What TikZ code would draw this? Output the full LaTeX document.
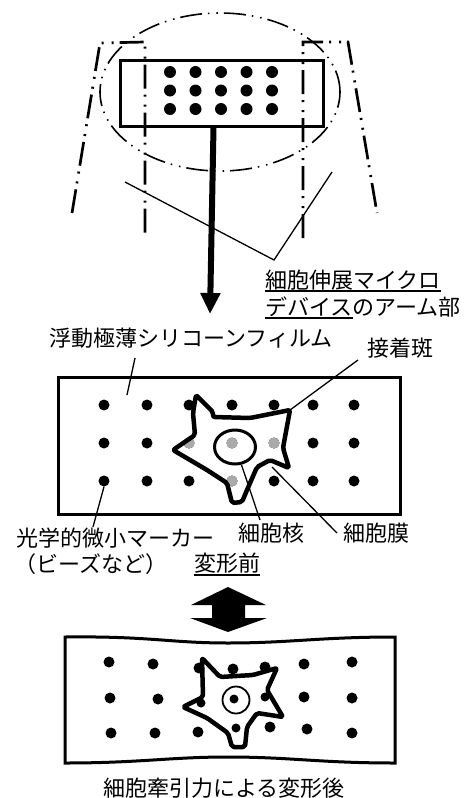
\documentclass[tikz,border=0pt]{standalone}
\usepackage{fontspec}
\setmainfont{Noto Sans CJK JP}
\usetikzlibrary{arrows.meta,shapes.geometric}
\definecolor{MarkGray}{RGB}{170,170,170}

\begin{document}
\begin{tikzpicture}[x=1pt,y=-1pt,
    lb/.style={inner sep=0pt,font=\fontsize{22}{26}\selectfont},
    ld/.style={line width=1.3pt},
    ul/.style={line width=2.2pt},
    dd/.style={line width=2.7pt,dash pattern=on 24pt off 6pt on 2pt off 8pt on 2pt off 6pt},
    mk/.style={circle,fill=black,inner sep=0pt,minimum size=11pt},
    gm/.style={mk,fill=MarkGray},
    cell/.style={line width=4.5pt,line join=round,rounded corners=2pt}]
  \useasboundingbox (0,0) rectangle (469,798);

  % micro device: arms, close-up ellipse, tip with markers
  \draw[dd] (72,213) -- (100,43) -- (145,42) -- (145,238);
  \draw[dd] (303,238) -- (303,42) -- (348,42) -- (377,213);
  \draw[dd,line width=1.6pt,dash pattern=on 22pt off 6pt on 1.5pt off 7pt on 1.5pt off 6pt]
    (220,92) ellipse [x radius=120pt,y radius=79pt];
  \node[draw,line width=3pt,minimum width=203pt,minimum height=66pt,inner sep=0pt] (dev) at (221.5,93) {};
  \foreach \i in {0,...,4}
    \foreach \j in {0,1,2}
      \node[mk,minimum size=12pt] at (170+25.5*\i,72+18.5*\j) {};
  \coordinate (tip) at (210,314);
  \draw[line width=6pt,-{Triangle[width=19pt,length=21pt]}] ([xshift=-8pt]dev.south) -- (tip);

  % arm label
  \coordinate (armL) at (125,182);
  \coordinate (armR) at (332,172);
  \coordinate (armV) at (274,260);
  \draw[ld] (armL) -- (armV) -- (armR);
  \node[lb,anchor=base west] (arm1) at (265,288) {細胞伸展マイクロ};
  \node[lb,anchor=base west] (arm2) at (265,315) {デバイス};
  \node[lb,anchor=base west] (arm3) at (arm2.base east) {のアーム部};
  \draw[ul] ([yshift=-3pt]arm1.base west) -- ([yshift=-3pt]arm1.base east);
  \draw[ul] ([yshift=-3pt]arm2.base west) -- ([yshift=-3pt]arm2.base east);

  % film before deformation
  \node[lb,anchor=base west] (film-lbl) at (49,346) {浮動極薄シリコーンフィルム};
  \node[lb,anchor=base west] (fa-lbl) at (367,356) {接着斑};
  \node[draw,line width=3pt,minimum width=342pt,minimum height=137pt,inner sep=0pt] (film) at (229,445.5) {};
  \foreach \x [count=\i] in {104,147,189,232,274,313,354}
    \foreach \y [count=\j] in {405,443,481}
      \node[mk] (m\i\j) at (\x,\y) {};
  \foreach \p in {32,42,52,43}
    \node[gm] at (m\p) {};
  \draw[cell] (196,395) -- (213,412) -- (213,417) -- (250,418) -- (290,410) -- (283,448)
    -- (289,468) -- (270,460) -- (257,467) -- (247,490) -- (242,502) -- (232,503)
    -- (227,483) -- (207,470) -- (190,460) -- (173,450) -- (195,435) -- (193,413) -- cycle;
  \node[draw,ellipse,line width=3pt,minimum width=41pt,minimum height=34pt,inner sep=0pt] (nuc) at (235,447) {};

  \node[lb,anchor=base west] (mk-lbl) at (16,546) {光学的微小マーカー};
  \node[lb,anchor=base west] (mk-lbl2) at (14,572) {（ビーズなど）};
  \node[lb,anchor=base west] (nuc-lbl) at (238,541) {細胞核};
  \node[lb,anchor=base west] (mem-lbl) at (343,541) {細胞膜};
  \node[lb,anchor=base west] (pre-lbl) at (194,571) {変形前};
  \draw[ul] ([yshift=-4pt]pre-lbl.base west) -- ([yshift=-4pt]pre-lbl.base east);

  % leader ends
  \coordinate (fl1) at (135,358);  \coordinate (fl2) at (127,395);
  \coordinate (fa1) at (358,360);  \coordinate (fa2) at (290,410);
  \coordinate (mk2) at (93,527);
  \coordinate (nu2) at (260,520);
  \coordinate (me1) at (272,467);  \coordinate (me2) at (337,533);
  \foreach \a/\b in {fl1/fl2,fa1/fa2,m13.south/mk2,nuc.-70/nu2,me1/me2}
    \draw[ld] (\a) -- (\b);

  % double arrow
  \fill (228,587) -- (266,605) -- (245,605) -- (245,618) -- (267,618) -- (228,632)
    -- (190,618) -- (212,618) -- (212,605) -- (191,605) -- cycle;

  % film after deformation
  \draw[line width=3pt] (65,637) .. controls (150,636) and (170,643) .. (228,643)
    .. controls (290,643) and (320,637) .. (395,637) -- (395,763)
    .. controls (320,763) and (290,757) .. (228,757)
    .. controls (170,757) and (140,763) .. (65,763) -- cycle;
  \foreach \x/\y in {109/662,153/664,199/668,233/669,265/667,304/664,352/662,
                     110/698,158/699,304/697,352/698,
                     111/733,155/733,198/732,270/727,307/729,352/733}
    \fill (\x,\y) circle (5.5pt);
  \foreach \x/\y in {201/703,234/699,265/697,236/728}
    \fill (\x,\y) circle (4.5pt);
  \draw[cell] (202,658) -- (220,677) -- (253,675) -- (277,668) -- (267,690) -- (283,717)
    -- (257,713) -- (247,727) -- (245,747) -- (232,747) -- (228,733) -- (207,718)
    -- (183,707) -- (203,697) -- cycle;
  \draw[line width=1.8pt] (236,700) circle (13.5pt);
  \node[lb] (post-lbl) at (224,788) {細胞牽引力による変形後};
\end{tikzpicture}
\end{document}
